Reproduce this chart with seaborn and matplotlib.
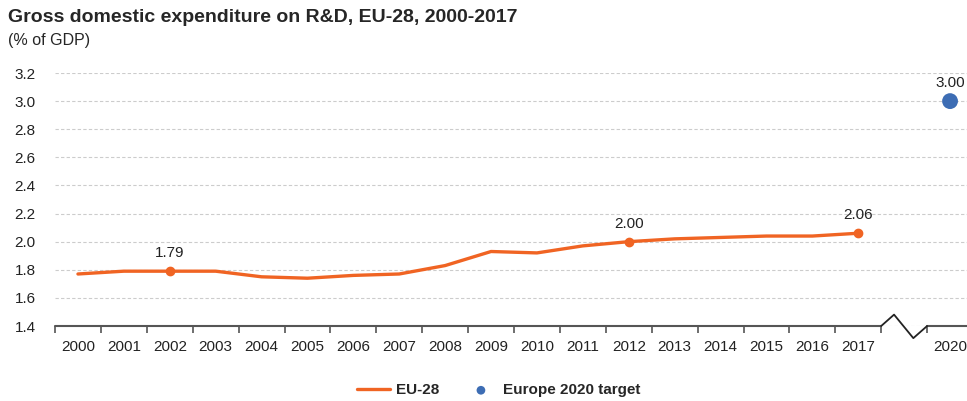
import numpy as np
import pandas as pd
import seaborn as sns
import matplotlib.pyplot as plt

# 数据
years = ['2000', '2001', '2002', '2003', '2004', '2005', '2006', '2007', '2008',
         '2009', '2010', '2011', '2012', '2013', '2014', '2015', '2016', '2017']
eu28 = [1.77, 1.79, 1.79, 1.79, 1.75, 1.74, 1.76, 1.77, 1.83,
        1.93, 1.92, 1.97, 2.00, 2.02, 2.03, 2.04, 2.04, 2.06]
labelled_years = ['2002', '2012', '2017']
target_year = '2020'
target_value = 3.00
tick_labels = years + ['', target_year]

orange = '#F06423'
blue = '#3D6DB4'

sns.set_style('white')
plt.rcParams['font.family'] = ['Liberation Sans', 'DejaVu Sans']

# 类别位置：2000-2017 依次排列，中间空一格，再放 2020
pos = {y: i for i, y in enumerate(years)}
pos[target_year] = len(years) + 1

df = pd.DataFrame({'x': [pos[y] for y in years], 'value': eu28, 'year': years})
df_t = pd.DataFrame({'x': [pos[target_year]], 'value': [target_value]})

fig = plt.figure(figsize=(9.67, 4.01), dpi=100)
ax = fig.add_axes([55 / 967, 75 / 401, 918 / 967, 253 / 401])

sns.lineplot(data=df, x='x', y='value', color=orange, linewidth=2.4, ax=ax, label='EU-28')
lab = df[df['year'].isin(labelled_years)]
ax.plot(lab['x'], lab['value'], 'o', color=orange, markersize=6, zorder=4)
for _, r in lab.iterrows():
    ax.annotate(f"{r['value']:.2f}", (r['x'], r['value']), xytext=(0, 8),
                textcoords='offset points', ha='center', va='bottom', fontsize=11, color='#222222')

sns.scatterplot(data=df_t, x='x', y='value', color=blue, s=130, ax=ax,
                edgecolor='none', label='Europe 2020 target', zorder=5)
ax.annotate(f"{target_value:.2f}", (pos[target_year], target_value), xytext=(0, 8),
            textcoords='offset points', ha='center', va='bottom', fontsize=11, color='#222222')

# 坐标轴
n = len(tick_labels)
ax.set_xlim(-0.5, n - 0.5)
ax.set_ylim(1.4, 3.2)
ax.set_yticks(np.arange(1.4, 3.21, 0.2))
ax.set_yticklabels([f'{v:.1f}' for v in np.arange(1.4, 3.21, 0.2)], fontsize=11, color='#222222')
ax.set_xticks(range(n))
ax.set_xticklabels(tick_labels, fontsize=11, color='#222222')
ax.set_xticks(np.arange(-0.5, n, 1.0), minor=True)
ax.tick_params(axis='x', which='major', length=0, pad=10)
ax.tick_params(axis='x', which='minor', bottom=True, length=5, width=1.2, color='#555555', direction='out')
ax.tick_params(axis='y', length=0, pad=14)
ax.set_xlabel('')
ax.set_ylabel('')
for s in ax.spines.values():
    s.set_visible(False)
ax.yaxis.grid(True, linestyle=(0, (3, 2)), color='#CCCCCC', linewidth=0.8)
ax.set_axisbelow(True)

# 底部轴线（断开处画折线）
xt = ax.get_xaxis_transform()
gap_l, gap_r = len(years) - 0.5, len(years) + 0.5
ax.plot([-0.5, gap_l], [0, 0], color='#555555', lw=1.5, transform=xt, clip_on=False)
ax.plot([gap_r, n - 0.5], [0, 0], color='#555555', lw=1.5, transform=xt, clip_on=False)
zx = gap_l + np.array([0.0, 0.28, 0.7, 1.0]) * (gap_r - gap_l)
zy = np.array([0.0, 0.045, -0.048, 0.0])
ax.plot(zx, zy, color='#222222', lw=1.3, transform=xt, clip_on=False)

ax.get_legend().remove()
h, l = ax.get_legend_handles_labels()
fig.legend(h, l, loc='lower center', bbox_to_anchor=(0.516, -0.025), ncol=2, frameon=False,
           prop={'weight': 'bold', 'size': 11}, handlelength=2.1, columnspacing=1.7,
           handletextpad=0.4, markerscale=0.55)

fig.text(8 / 967, 1 - 18 / 401, 'Gross domestic expenditure on R&D, EU-28, 2000-2017',
         fontsize=14, fontweight='bold', va='center', ha='left')
fig.text(8 / 967, 1 - 40 / 401, '(% of GDP)', fontsize=11.5, va='center', ha='left')

fig.savefig('out.png', dpi=100)
